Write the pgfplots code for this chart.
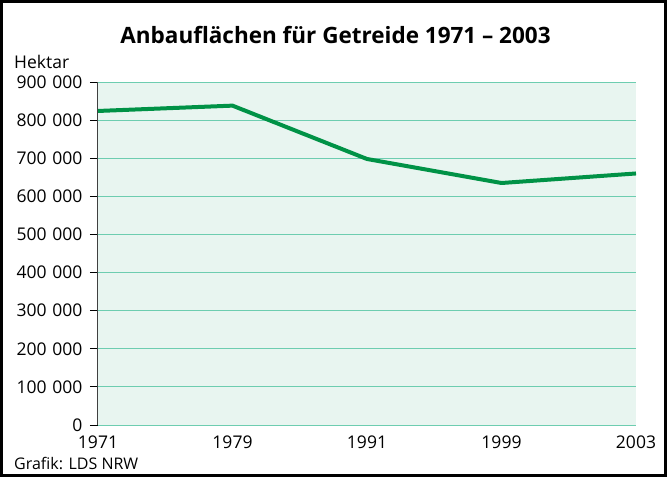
\documentclass[border=0pt]{standalone}
\usepackage{fontspec}
\setmainfont{Open Sans}
\usepackage{pgfplots}
\pgfplotsset{compat=1.18}
\definecolor{bgc}{HTML}{E8F5F0}
\definecolor{gridc}{HTML}{6DCDB0}
\definecolor{linec}{HTML}{009246}
\newcommand{\ts}{\hspace{0.33em}}
\begin{document}
\begin{tikzpicture}[x=1pt,y=1pt]
\useasboundingbox (0,0) rectangle (667,-477);
\draw[line width=3pt] (1.5,-1.5) rectangle (665.5,-475.5);
\node[font=\fontsize{22.5}{26}\selectfont\bfseries] at (335.5,-35) {Anbauflächen für Getreide 1971 – 2003};
\node[anchor=west,font=\fontsize{17.5}{20}\selectfont,inner sep=0pt] at (14,-62) {Hektar};
\node[anchor=west,font=\fontsize{16}{19}\selectfont,inner sep=0pt] at (14,-463) {Grafik: LDS NRW};
\begin{axis}[
  at={(98pt,-425pt)}, anchor=south west,
  scale only axis, width=538pt, height=343pt,
  xmin=0, xmax=4, ymin=0, ymax=900000,
  xtick={0,1,2,3,4},
  xticklabels={1971,1979,1991,1999,2003},
  ytick={0,100000,200000,300000,400000,500000,600000,700000,800000,900000},
  yticklabels={0,100\ts000,200\ts000,300\ts000,400\ts000,500\ts000,600\ts000,700\ts000,800\ts000,900\ts000},
  scaled y ticks=false,
  tick label style={font=\fontsize{17.5}{20}\selectfont},
  axis lines*=left,
  axis line style={-},
  x axis line style={draw=gridc, line width=1pt},
  y axis line style={draw=black!75, line width=1pt},
  tick align=outside,
  major tick length=8pt,
  x tick style={draw=none},
  y tick style={draw=black, line width=1pt},
  ymajorgrids,
  grid style={gridc, line width=1pt},
  axis background/.style={fill=bgc},
  xticklabel style={yshift=1pt},
  yticklabel style={xshift=-4pt},
  clip=false,
]
\addplot[linec, line width=4pt, line join=round] coordinates {
  (0,824000) (1,838000) (2,698000) (3,635000) (4,660000)
};
\end{axis}
\end{tikzpicture}
\end{document}
